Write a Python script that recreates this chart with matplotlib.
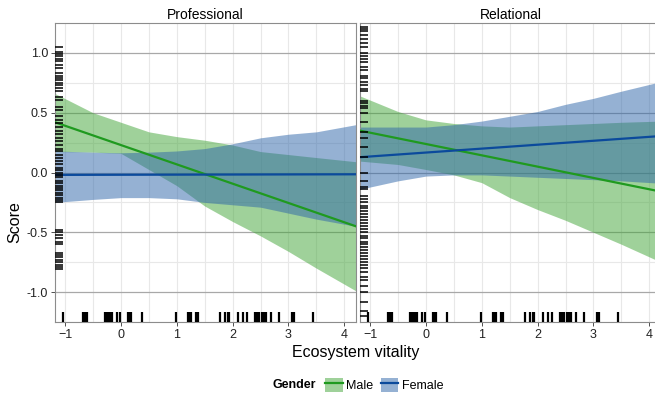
import matplotlib
matplotlib.use("Agg")
import matplotlib.pyplot as plt
from matplotlib.patches import Patch
from matplotlib.lines import Line2D
import numpy as np

plt.rcParams['font.family'] = ['Liberation Sans', 'DejaVu Sans']

# band grid (Ecosystem vitality)
xg = [-1.18, -0.5, 0, 0.5, 1.0, 1.5, 2.0, 2.5, 3.0, 3.5, 4.21]
x_ends = [-1.18, 4.21]

# Professional
prof_male_line = [0.42, -0.45]
prof_male_hi = [0.66, 0.50, 0.42, 0.34, 0.30, 0.27, 0.23, 0.175, 0.15, 0.125, 0.09]
prof_male_lo = [0.175, 0.17, 0.16, 0.025, -0.11, -0.28, -0.41, -0.53, -0.66, -0.80, -0.99]
prof_fem_line = [-0.02, -0.015]
prof_fem_hi = [0.18, 0.17, 0.165, 0.17, 0.18, 0.20, 0.24, 0.29, 0.32, 0.34, 0.40]
prof_fem_lo = [-0.25, -0.225, -0.21, -0.21, -0.22, -0.25, -0.27, -0.29, -0.34, -0.39, -0.45]

# Relational
rel_male_line = [0.35, -0.16]
rel_male_hi = [0.64, 0.51, 0.44, 0.41, 0.39, 0.38, 0.39, 0.40, 0.41, 0.42, 0.43]
rel_male_lo = [0.095, 0.067, 0.025, -0.02, -0.085, -0.21, -0.31, -0.40, -0.50, -0.60, -0.75]
rel_fem_line = [0.128, 0.305]
rel_fem_hi = [0.38, 0.38, 0.38, 0.40, 0.43, 0.47, 0.51, 0.57, 0.62, 0.68, 0.76]
rel_fem_lo = [-0.14, -0.07, -0.03, -0.02, -0.02, -0.03, -0.04, -0.05, -0.06, -0.07, -0.09]

# rug values
x_rug = [-1.03, -0.68, -0.64, -0.6, -0.28, -0.25, -0.22, -0.19, -0.16, -0.07, -0.02,
         0.13, 0.16, 0.18, 0.38, 0.99, 1.2, 1.23, 1.26, 1.35, 1.38, 1.78, 1.87, 1.91,
         1.94, 2.1, 2.19, 2.26, 2.4, 2.44, 2.48, 2.52, 2.56, 2.6, 2.69, 2.84, 3.07,
         3.1, 3.44]
prof_rug_y = [1.05, 1.01, 0.99, 0.97, 0.95, 0.93, 0.9, 0.87, 0.83, 0.81, 0.79, 0.77,
              0.75, 0.73, 0.71, 0.68, 0.63, 0.61, 0.55, 0.52, 0.47, 0.44, 0.41, 0.38,
              0.35, 0.32, 0.29, 0.26, 0.23, 0.2, 0.18, 0.15, 0.12, 0.1, 0.07, 0.04,
              0.02, 0.0, -0.02, -0.04, -0.07, -0.09, -0.11, -0.13, -0.15, -0.17,
              -0.19, -0.21, -0.23, -0.25, -0.48, -0.5, -0.52, -0.55, -0.58, -0.6,
              -0.67, -0.69, -0.71, -0.73, -0.75, -0.77, -0.79, -0.81]
rel_rug_y = [1.22, 1.2, 1.18, 1.15, 1.12, 1.08, 1.05, 1.0, 0.97, 0.95, 0.92, 0.88,
             0.86, 0.81, 0.79, 0.76, 0.73, 0.7, 0.68, 0.6, 0.58, 0.56, 0.54, 0.5,
             0.42, 0.34, 0.29, 0.21, 0.13, 0.0, -0.07, -0.12, -0.14, -0.2, -0.22,
             -0.25, -0.28, -0.3, -0.32, -0.35, -0.37, -0.4, -0.42, -0.45, -0.47,
             -0.5, -0.53, -0.55, -0.58, -0.6, -0.62, -0.65, -0.67, -0.7, -0.72,
             -0.75, -0.77, -0.8, -0.83, -0.87, -0.9, -0.95, -1.0, -1.08, -1.16, -1.2]

panels = ["Professional", "Relational"]
male_fill, fem_fill = '#41a537', '#2d65a9'
male_col, fem_col = '#1f9a1f', '#0b4a9c'

fig = plt.figure(figsize=(6.55, 3.95), dpi=100)
W, H = 655, 395
axes = [fig.add_axes([55 / W, 73 / H, 301 / W, 299 / H]),
        fig.add_axes([360 / W, 73 / H, 301 / W, 299 / H])]

data = [
    (prof_male_line, prof_male_hi, prof_male_lo, prof_fem_line, prof_fem_hi, prof_fem_lo, prof_rug_y),
    (rel_male_line, rel_male_hi, rel_male_lo, rel_fem_line, rel_fem_hi, rel_fem_lo, rel_rug_y),
]

for i, ax in enumerate(axes):
    ml, mh, mlo, fl, fh, flo, ry = data[i]
    ax.set_xlim(-1.18, 4.21)
    ax.set_ylim(-1.25, 1.25)
    for v in np.arange(-1.0, 4.01, 0.5):
        ax.axvline(v, color='#e8e8e8', lw=0.8, zorder=0)
    for v in [-1.25, -0.75, -0.25, 0.25, 0.75]:
        ax.axhline(v, color='#e8e8e8', lw=0.8, zorder=0)
    for v in [-1.0, -0.5, 0.0, 0.5, 1.0]:
        ax.axhline(v, color='#a8a8a8', lw=0.9, zorder=0.5)

    ax.fill_between(xg, mlo, mh, color=male_fill, alpha=0.5, lw=0, zorder=1)
    ax.fill_between(xg, flo, fh, color=fem_fill, alpha=0.5, lw=0, zorder=2)
    ax.plot(x_ends, ml, color=male_col, lw=1.6, zorder=3)
    ax.plot(x_ends, fl, color=fem_col, lw=1.6, zorder=3)

    ax.vlines(x_rug, 0, 0.034, color='black', lw=1.6, transform=ax.get_xaxis_transform(), zorder=4)
    ax.hlines(ry, 0, 0.027, color='black', lw=1.1, transform=ax.get_yaxis_transform(), zorder=4)

    ax.set_xticks([-1, 0, 1, 2, 3, 4])
    ax.set_yticks([-1.0, -0.5, 0.0, 0.5, 1.0])
    ax.tick_params(axis='both', length=3, width=0.6, color='#333333', labelsize=9, pad=2, labelcolor='#222222')
    if i == 0:
        ax.set_yticklabels(['-1.0', '-0.5', '0.0', '0.5', '1.0'])
    else:
        ax.tick_params(axis='y', left=False, labelleft=False)
    for s in ax.spines.values():
        s.set_color('#8c8c8c')
        s.set_linewidth(0.8)
    ax.set_title(panels[i], fontsize=10, pad=3)

fig.text(15 / W, 173 / H, 'Score', rotation=90, ha='center', va='center', fontsize=11.5, transform=fig.transFigure)
fig.text(356 / W, 1 - 352 / H, 'Ecosystem vitality', ha='center', va='center', fontsize=11.5)
fig.text(294 / W, 1 - 385 / H, 'Gender', ha='center', va='center', fontsize=9, fontweight='bold')

handles = [(Patch(facecolor=male_fill, alpha=0.5, edgecolor='none'), Line2D([], [], color=male_col, lw=1.6)),
           (Patch(facecolor=fem_fill, alpha=0.5, edgecolor='none'), Line2D([], [], color=fem_col, lw=1.6))]
fig.legend(handles, ['Male', 'Female'], loc='center left', bbox_to_anchor=(325 / W, 1 - 385 / H),
           ncol=2, frameon=False, fontsize=9, handlelength=1.4, handleheight=1.4,
           handletextpad=0.3, columnspacing=0.6, borderaxespad=0, borderpad=0)

fig.savefig('out.png', dpi=100)
